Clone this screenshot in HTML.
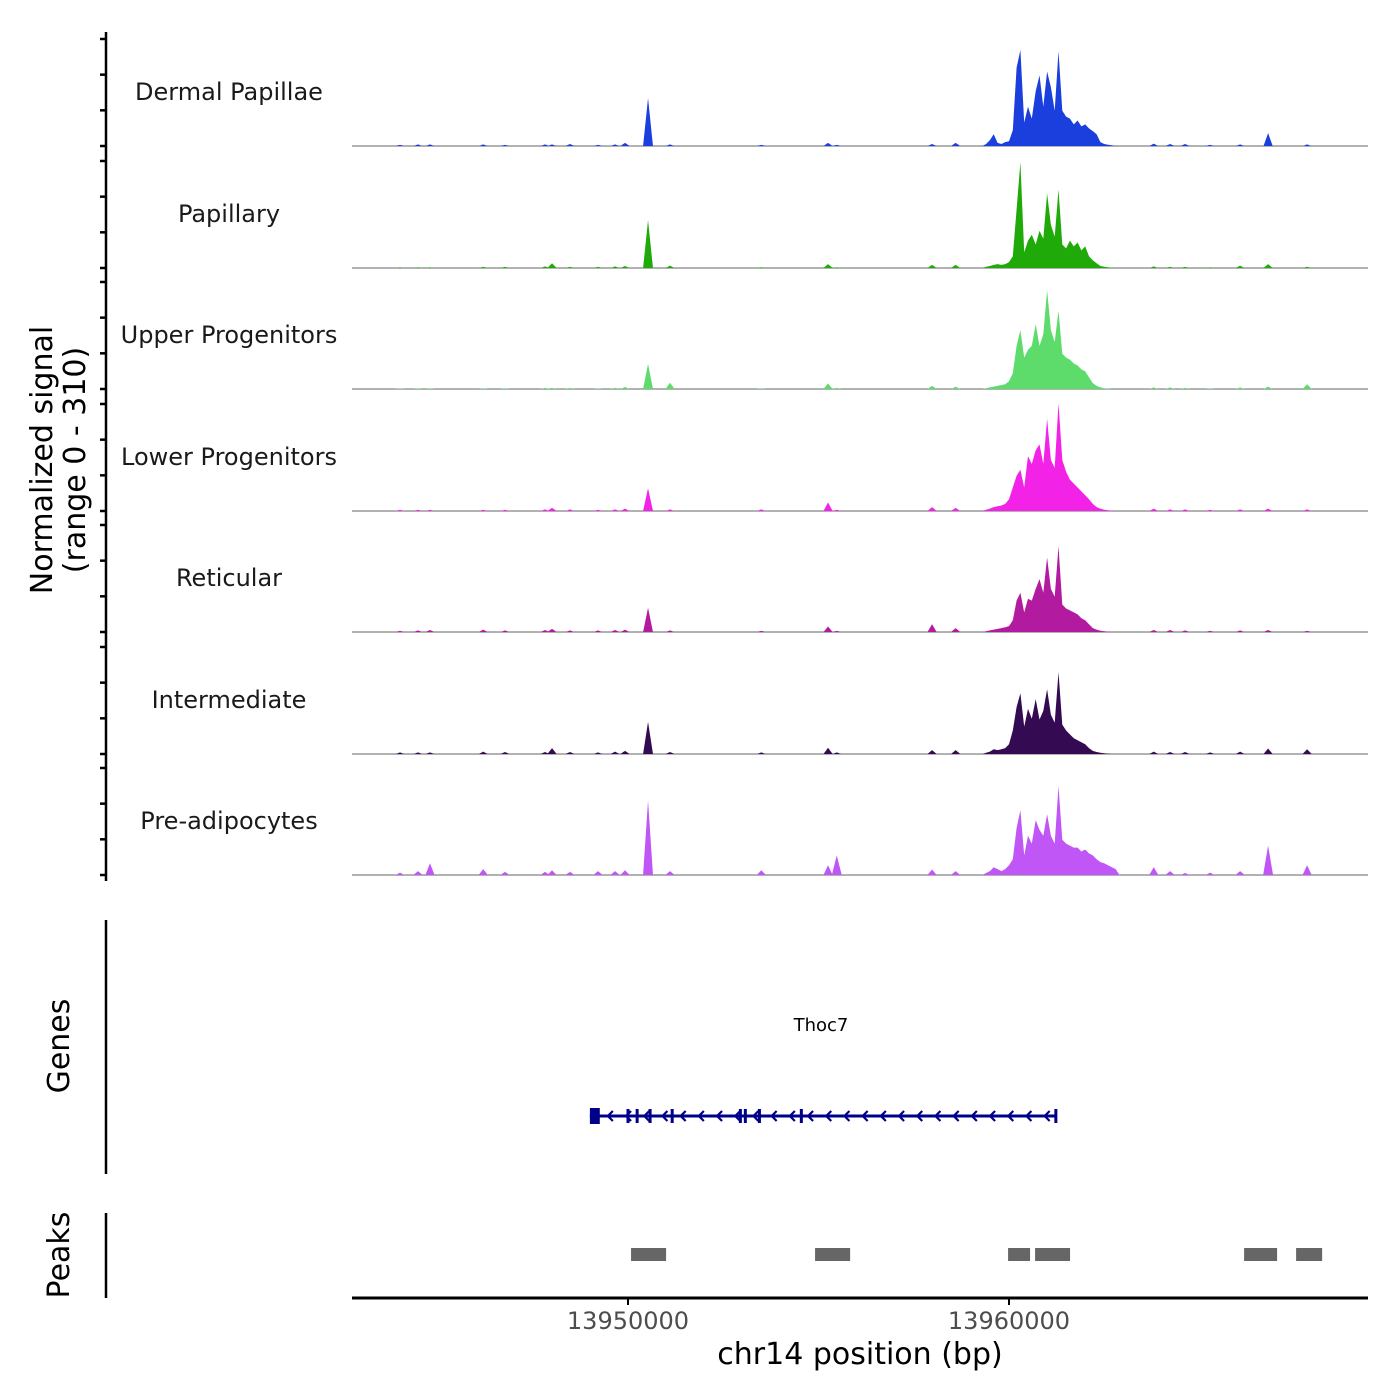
<!DOCTYPE html>
<html><head><meta charset="utf-8">
<style>
html,body{margin:0;padding:0;background:#fff;}
svg{display:block;font-family:"DejaVu Sans","Liberation Sans",sans-serif;}
</style></head>
<body>
<svg id="chart" width="1400" height="1400" viewBox="0 0 1400 1400" xmlns="http://www.w3.org/2000/svg">
<g id="tracks"></g>
<g id="genes"></g>
<g id="peaks"></g>
<g id="axes"></g>
</svg>
<script>
// ---- data ----
const trackNames = ["Dermal Papillae","Papillary","Upper Progenitors","Lower Progenitors","Reticular","Intermediate","Pre-adipocytes"];
const trackColors = ["#1a3fdd","#1faa0a","#5ddc6b","#f222e6","#b21aa0","#340b53","#c056f5"];
const clusterPos = [13959400,13959500,13959600,13959700,13959800,13959900,13960000,13960100,13960200,13960300,13960400,13960500,13960600,13960700,13960800,13960900,13961000,13961100,13961200,13961300,13961400,13961500,13961600,13961700,13961800,13961900,13962000,13962100,13962200,13962300,13962400,13962500,13962600,13962700,13962800];
const clusterDermal = [5,15,30,8,5,10,12,40,200,245,60,100,70,140,180,100,190,150,90,242,90,75,70,55,65,50,55,45,38,30,10,5,3,2,0];
const clusterPapillary = [3,5,8,10,8,10,15,30,150,270,40,70,85,60,95,75,190,110,80,200,60,50,70,55,65,45,55,30,20,12,5,3,2,1,0];
const clusterUpper = [2,4,6,8,10,12,20,40,110,150,80,100,110,165,110,140,252,150,120,200,90,80,75,65,60,50,45,30,15,8,4,2,1,0,0];
const clusterLower = [3,6,10,12,14,18,30,60,90,105,60,140,120,155,170,120,235,130,110,275,130,100,80,70,60,50,40,30,18,10,6,3,2,1,0];
const clusterReticular = [2,4,6,8,10,12,15,30,80,100,50,85,80,110,135,100,190,110,90,219,70,60,55,50,45,35,30,20,10,6,3,2,1,0,0];
const clusterIntermediate = [3,6,12,10,12,15,25,60,120,155,70,115,90,140,88,110,165,100,80,209,75,60,50,40,35,30,25,15,8,5,3,2,1,0,0];
const clusterPreadipo = [5,10,20,15,10,15,25,40,120,165,50,100,80,140,115,100,155,100,80,227,90,80,75,70,70,60,65,55,50,40,33,30,25,20,15];
const spikePos = [13944803,13948006,13950526,13951103,13955251,13955480,13957981,13966801,13967825,13946200,13953500,13958600,13963800,13944016,13944488,13946772,13947822,13948478,13949213,13949660,13949922,13964228,13964622,13965278,13966066];
const spikeDermal = [4,4,122,4,8,3,5,33,4,4,3,8,6,3,4,3,4,5,3,4,8,5,5,3,4];
const spikePapillary = [2,12,122,6,10,2,8,10,3,3,2,8,4,2,2,3,4,3,3,4,5,3,3,2,6];
const spikeUpper = [2,3,64,16,14,3,8,6,12,2,2,6,4,2,2,2,3,3,2,3,5,4,3,2,4];
const spikeLower = [3,8,58,4,22,3,10,6,4,3,4,8,6,3,3,3,4,4,3,4,6,4,4,3,4];
const spikeReticular = [5,8,62,4,14,3,20,5,3,6,3,10,5,3,4,4,5,4,4,5,6,5,4,3,4];
const spikeIntermediate = [4,15,82,5,16,4,10,14,12,6,4,10,6,4,4,5,5,5,4,6,8,5,5,4,6];
const spikePreadipo = [30,12,190,10,25,50,14,75,25,15,12,10,20,6,10,8,8,8,10,10,12,10,5,6,10];
const clusterVals = [clusterDermal,clusterPapillary,clusterUpper,clusterLower,clusterReticular,clusterIntermediate,clusterPreadipo];
const spikeVals = [spikeDermal,spikePapillary,spikeUpper,spikeLower,spikeReticular,spikeIntermediate,spikePreadipo];
const yTickVals = [0,91,182,273];
const xTicks = [13950000,13960000];
const geneStart = 13948999, geneEnd = 13961262;
const exonPos = [13949130,13950000,13950240,13950580,13951160,13952950,13953080,13953450,13954550,13961230];
const exonWidth = [260,40,40,40,40,40,40,60,60,40];
const peakStarts = [13950080,13954910,13959976,13960685,13966171,13967536];
const peakEnds = [13951000,13955830,13960553,13961603,13967037,13968219];

// ---- scales ----
const NS="http://www.w3.org/2000/svg";
const X0=352,X1=1368, BP0=13942756, BP1=13969423;
function xs(bp){return X0+(bp-BP0)/(BP1-BP0)*(X1-X0);}
const baselines=[146,268,389,511,632,754,875];
const pxPerUnit=0.392;
function ys(v,t){return baselines[t]-v*pxPerUnit;}
function mk(tag,attrs,parent){const e=document.createElementNS(NS,tag);for(const k in attrs)e.setAttribute(k,attrs[k]);parent.appendChild(e);return e;}

const gT=document.getElementById('tracks');
for(let t=0;t<7;t++){
  const g=mk('g',{},gT);
  
  
  const lab=mk('text',{x:229,y:baselines[t]-46,'text-anchor':'middle','font-size':24,fill:'#1a1a1a'},g);
  lab.textContent=trackNames[t];
  
  
  const base=mk('line',{x1:X0,x2:X1,y1:baselines[t],y2:baselines[t],stroke:'#666','stroke-width':1},g);
  
  
  const cv=clusterVals[t];
  let d='M'+xs(clusterPos[0]-100)+','+baselines[t];
  for(let i=0;i<clusterPos.length;i++) d+=' L'+xs(clusterPos[i]).toFixed(1)+','+ys(cv[i],t).toFixed(1);
  d+=' L'+xs(clusterPos[clusterPos.length-1]+100)+','+baselines[t]+' Z';
  const area=mk('path',{d:d,fill:trackColors[t]},g);
  
  
  const sv=spikeVals[t];
  for(let i=0;i<spikePos.length;i++){
    const c=spikePos[i],h=sv[i];
    const w=h>40?130:120;
    const pd='M'+xs(c-w)+','+baselines[t]+' L'+xs(c-w*0.5)+','+ys(h*0.5,t)+' L'+xs(c)+','+ys(h,t)+' L'+xs(c+w*0.5)+','+ys(h*0.5,t)+' L'+xs(c+w)+','+baselines[t]+' Z';
    const s=mk('path',{d:pd,fill:trackColors[t]},g);
    
    
  }
}

// ---- genes ----
const gG=document.getElementById('genes');
const gc='#00008b';
const gl=mk('line',{x1:xs(geneStart),x2:xs(geneEnd),y1:1116,y2:1116,stroke:gc,'stroke-width':3},gG);


for(let i=0;i<exonPos.length;i++){
  const x=xs(exonPos[i]), w=Math.max(3,exonWidth[i]/(BP1-BP0)*(X1-X0));
  const r=mk('rect',{x:x-w/2,y:i===0?1108:1109,width:w,height:i===0?16:14,fill:gc},gG);
  
  
}
for(let x=xs(geneStart)+18;x<xs(geneEnd)-4;x+=18.2){
  const a=mk('path',{d:'M'+(x+5)+',1111 L'+x+',1116 L'+(x+5)+',1121',stroke:gc,'stroke-width':2.2,fill:'none'},gG);
  
  
}
const gn=mk('text',{x:821,y:1031,'text-anchor':'middle','font-size':18,fill:'#000'},gG);
gn.textContent='Thoc7';



// ---- peaks ----
const gP=document.getElementById('peaks');
for(let i=0;i<peakStarts.length;i++){
  const r=mk('rect',{x:xs(peakStarts[i]),y:1248,width:xs(peakEnds[i])-xs(peakStarts[i]),height:13,fill:'#666'},gP);
  
  
}

// ---- axes ----
const gA=document.getElementById('axes');
function line(x1,y1,x2,y2,w,name){const l=mk('line',{x1:x1,y1:y1,x2:x2,y2:y2,stroke:'#000','stroke-width':w},gA);return l;}
line(106,32,106,881,2.5,'y-axis-line');
for(let t=0;t<7;t++) for(const v of yTickVals) line(100,ys(v,t),106,ys(v,t),2.5,'y-tick');
line(106,920,106,1174,2.5,'genes-axis-line');
line(106,1213,106,1298,2.5,'peaks-axis-line');
line(352,1298,1368,1298,3,'x-axis-line');
for(const v of xTicks){
  line(xs(v),1298,xs(v),1305,2,'x-tick');
  const tl=mk('text',{x:xs(v),y:1329,'text-anchor':'middle','font-size':24,fill:'#4d4d4d'},gA);
  tl.textContent=String(v);
  
  
}
const xt=mk('text',{x:860,y:1364,'text-anchor':'middle','font-size':30,fill:'#000'},gA);
xt.textContent='chr14 position (bp)';


const yt=mk('text',{transform:'translate(52,460) rotate(-90)','text-anchor':'middle','font-size':30,fill:'#000'},gA);


const t1=mk('tspan',{x:0,y:0},yt);t1.textContent='Normalized signal';
const t2=mk('tspan',{x:0,y:33},yt);t2.textContent='(range 0 - 310)';
const ge=mk('text',{transform:'translate(69,1046) rotate(-90)','text-anchor':'middle','font-size':30,fill:'#000'},gA);
ge.textContent='Genes';


const pk=mk('text',{transform:'translate(69,1255) rotate(-90)','text-anchor':'middle','font-size':30,fill:'#000'},gA);
pk.textContent='Peaks';


</script>
</body></html>
